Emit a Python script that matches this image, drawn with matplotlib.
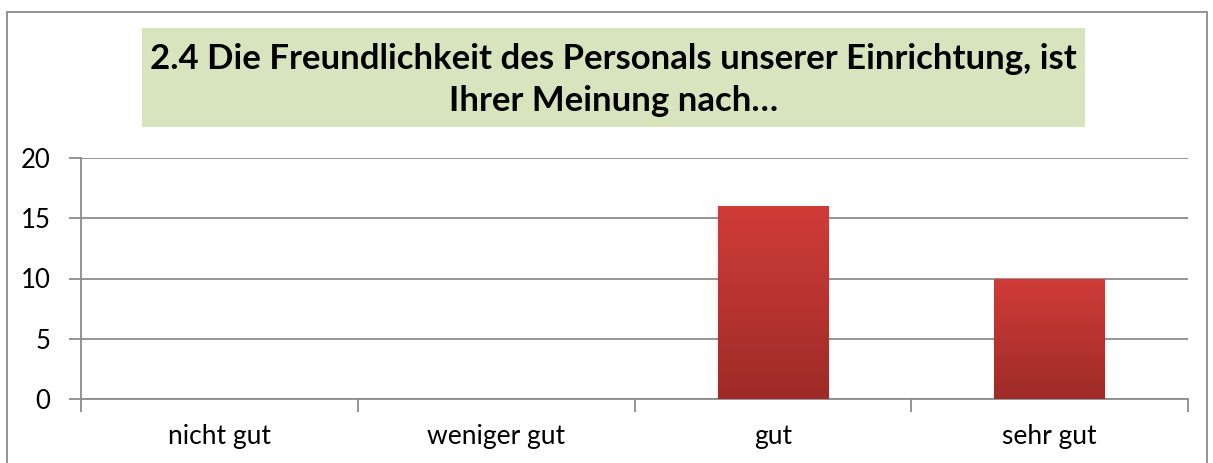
import matplotlib
matplotlib.use("Agg")
import matplotlib.pyplot as plt
import numpy as np
from matplotlib.patches import Rectangle
from matplotlib.colors import LinearSegmentedColormap

categories = ["nicht gut", "weniger gut", "gut", "sehr gut"]
values = [0, 0, 16, 10]
yticks = [0, 5, 10, 15, 20]
title = "2.4 Die Freundlichkeit des Personals unserer Einrichtung, ist\nIhrer Meinung nach…"

W, H = 1213, 463
fig = plt.figure(figsize=(W / 100, H / 100), dpi=100)
fig.patch.set_facecolor("white")
font = "Lato"

# outer chart border
fig.patches.append(Rectangle((7 / W, -0.01), (1207 - 7) / W, (H - 12) / H + 0.01,
                             transform=fig.transFigure, fill=False,
                             edgecolor="#8c8c8c", linewidth=1.3))

# title box
fig.patches.append(Rectangle((142 / W, 1 - 127 / H), (1085 - 142) / W, (127 - 28) / H,
                             transform=fig.transFigure, facecolor="#d8e4bd",
                             edgecolor="none"))
fig.text((142 + 1085) / 2 / W, 1 - 80 / H, title, ha="center", va="center",
         fontsize=25, fontweight="bold", family=font, linespacing=1.42)

ax = fig.add_axes([81 / W, 1 - 399 / H, (1188 - 81) / W, (399 - 158) / H])
x = np.arange(len(categories))
bars = ax.bar(x, values, width=0.4, color="#b83430", zorder=2)

cmap = LinearSegmentedColormap.from_list("g", ["#9e2b28", "#d03c38"])
grad = np.linspace(0, 1, 256).reshape(-1, 1)
for b in bars:
    if b.get_height() <= 0:
        continue
    bx, bw, bh = b.get_x(), b.get_width(), b.get_height()
    ax.add_patch(Rectangle((bx - 0.006, 0), bw + 0.014, bh - 0.05, facecolor="#000000",
                           alpha=0.04, zorder=1.5, edgecolor="none"))
    im = ax.imshow(grad, cmap=cmap, origin="lower", aspect="auto",
                   extent=(bx, bx + bw, 0, bh), zorder=3)
    im.set_clip_path(b)

ax.set_xlim(-0.5, len(categories) - 0.5)
ax.set_ylim(0, 20)
ax.set_yticks(yticks)
ax.set_yticklabels([str(t) for t in yticks], family=font, fontsize=18.5)
ax.yaxis.grid(True, color="#8c8c8c", linewidth=1.3, zorder=0)
ax.set_axisbelow(True)

ax.set_xticks(x)
ax.set_xticklabels(categories, family=font, fontsize=19)
ax.tick_params(axis="x", length=0, pad=18)
ax.set_xticks(np.arange(-0.5, len(categories)), minor=True)
ax.tick_params(axis="x", which="minor", length=9, width=1.3, color="#8c8c8c")
ax.tick_params(axis="y", length=9, width=1.3, color="#8c8c8c", pad=13)

for s in ["top", "right"]:
    ax.spines[s].set_visible(False)
ax.spines["left"].set_color("#8c8c8c")
ax.spines["left"].set_linewidth(1.3)
ax.spines["bottom"].set_color("#8c8c8c")
ax.spines["bottom"].set_linewidth(1.3)

fig.savefig("out.png", dpi=100)
